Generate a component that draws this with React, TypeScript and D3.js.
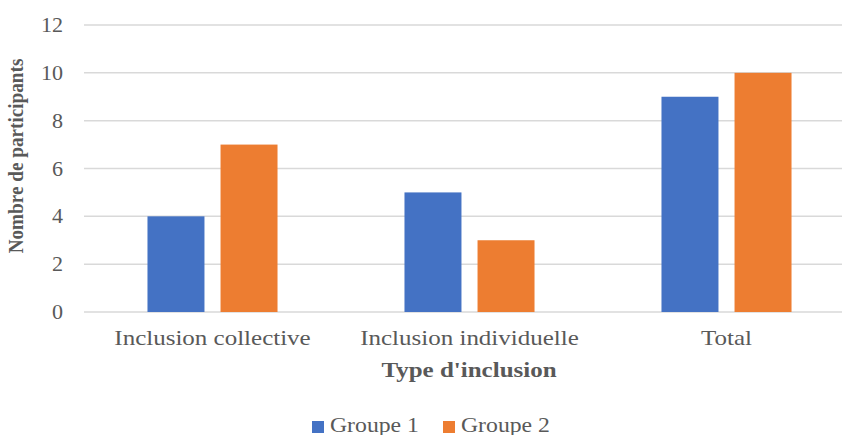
import React from "react";
import * as d3 from "d3";

const categories = ["Inclusion collective", "Inclusion individuelle", "Total"];
const seriesNames = ["Groupe 1", "Groupe 2"];
const groupe1 = [4, 5, 9];
const groupe2 = [7, 3, 10];
const yTicks = [0, 2, 4, 6, 8, 10, 12];
const colors = ["#4472C4", "#ED7D31"];

const W = 842;
const H = 435;
const FONT = "'Liberation Serif', 'Times New Roman', serif";
const TEXT = "#595959";

export default function App() {
  const x0 = d3.scaleBand<string>().domain(categories).range([84, 855]).paddingInner(0.494).paddingOuter(0.247);
  const x1 = d3.scaleBand<string>().domain(seriesNames).range([0, x0.bandwidth()]).paddingInner(0.22);
  const y = d3.scaleLinear().domain([0, 12]).range([312, 25]);
  const values = [groupe1, groupe2];

  return (
    <svg width={W} height={H} style={{ position: "absolute", left: 0, top: 0 }}>
      <rect width={W} height={H} fill="#fff" />
      {yTicks.map((t) => (
        <g key={t}>
          <line x1={84} x2={W} y1={y(t)} y2={y(t)} stroke="#D9D9D9" strokeWidth={1.5} />
          <text transform={`translate(63,${y(t) + 7}) scale(1.05,1)`} textAnchor="end" fontFamily={FONT} fontSize={21} fill={TEXT}>{t}</text>
        </g>
      ))}
      {categories.map((c, i) => (
        <g key={c} transform={`translate(${x0(c)},0)`}>
          {seriesNames.map((s, j) => (
            <rect key={s} x={x1(s)} y={y(values[j][i])} width={x1.bandwidth()} height={y(0) - y(values[j][i])} fill={colors[j]} />
          ))}
          <text transform={`translate(${x0.bandwidth() / 2},345) scale(1.19,1)`} textAnchor="middle" fontFamily={FONT} fontSize={21} fill={TEXT}>{c}</text>
        </g>
      ))}
      <text transform="translate(469,377) scale(1.19,1)" textAnchor="middle" fontFamily={FONT} fontSize={21} fontWeight="bold" fill={TEXT}>Type d'inclusion</text>
      <text transform="translate(23,156) scale(1.14,1) rotate(-90)" textAnchor="middle" fontFamily={FONT} fontSize={19.2} fontWeight="bold" fill={TEXT}>Nombre de participants</text>
      {seriesNames.map((s, j) => {
        const lx = j === 0 ? 312 : 443;
        return (
          <g key={s}>
            <rect x={lx} y={421} width={12} height={12} fill={colors[j]} />
            <text transform={`translate(${lx + 18},432) scale(1.13,1)`} fontFamily={FONT} fontSize={21} fill={TEXT}>{s}</text>
          </g>
        );
      })}
    </svg>
  );
}
